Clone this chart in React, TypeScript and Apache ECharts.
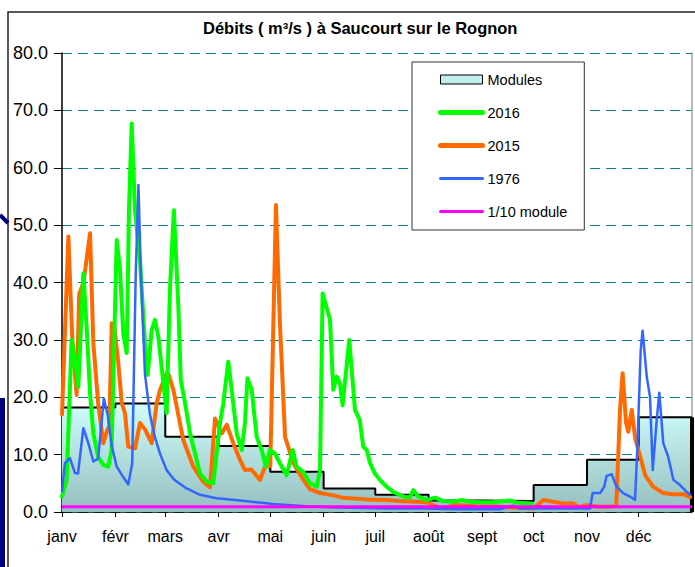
import React, { useEffect, useRef } from "react";
import * as echarts from "echarts";

const FONT = "'Liberation Sans', Arial, sans-serif";

const monthLabels = ["janv", "févr", "mars", "avr", "mai", "juin", "juil", "août", "sept", "oct", "nov", "déc"];
const monthStartDays = [0, 31, 60, 91, 121, 152, 182, 213, 244, 274, 305, 335];
const yearDays = 366;

const modulesMonthly = [18.2, 18.9, 13.1, 11.5, 7.0, 4.1, 3.0, 2.0, 1.9, 4.7, 9.1, 16.5];
const tenthModule = 0.9;

const flow2016: [number, number][] = [
  [0, 2.7], [2.7, 5.6], [5.6, 30], [7.5, 27], [9.5, 21.8], [12.4, 41.6], [14.3, 32.3], [16.3, 20.7],
  [18.2, 13.7], [21, 9.6], [24, 8.2], [26.9, 7.9], [28.8, 10.8], [31.8, 47.4], [33.7, 42.2], [35.6, 31.1],
  [37.6, 27.7], [38.9, 52.6], [40.5, 67.7], [42.4, 52.6], [45.3, 43.9], [48.2, 29.4], [49.8, 23.9],
  [52.1, 31.7], [54, 33.5], [56, 30.5], [58.9, 22.4], [60.8, 17.2], [62.7, 38.7], [65, 52.6], [67.6, 35.8],
  [69, 23], [71.5, 19], [74.4, 13.7], [77.3, 10.2], [80.2, 6.7], [84, 5.3], [87.9, 5], [91.8, 15.5],
  [93.7, 18.9], [96.6, 26.2], [98.6, 21.3], [101.5, 13.7], [104.4, 10.8], [106.3, 15.5], [107.7, 23.3],
  [110.2, 21.3], [113.1, 13.1], [116, 10.8], [118.5, 7.9], [120.8, 10.8], [123.7, 10.2], [126.6, 8.5],
  [130.5, 6.4], [134, 10.8], [136.3, 7.9], [140.2, 7], [144, 5], [148, 4.4], [149.9, 7.3], [151.4, 38.1],
  [155.7, 33.5], [157.6, 21.3], [159.6, 23.6], [161.5, 22.4], [163, 18.6], [166.9, 30], [170.2, 17.8],
  [173, 16], [175, 11.4], [177, 10.8], [179, 8.5], [181.8, 6.7], [184.7, 5.6], [188.6, 4.4], [192.5, 3.5],
  [198.3, 2.7], [202, 2.5], [204.1, 3.8], [207, 2.7], [211.9, 2.1], [216.7, 2.5], [221.5, 1.9], [227, 1.8],
  [232.2, 2.1], [237, 1.8], [242.8, 1.7], [250, 1.7], [260, 2.0], [265, 1.6], [273, 1.5],
];

const flow2015: [number, number][] = [
  [0, 17], [3.7, 48], [6, 30], [8.5, 20.4], [10, 38], [12.5, 40], [16.3, 48.6], [18.2, 29.4], [21, 19],
  [24, 12], [26, 14], [27.5, 15], [28.9, 32.9], [30.5, 32], [32.7, 26], [34.7, 19], [36.6, 17.2],
  [38.5, 11.4], [42.4, 11.1], [45.3, 15.5], [48.2, 14.4], [52.1, 12], [55, 19], [57, 21.3], [60.8, 24.2],
  [62, 23.9], [64.7, 21.3], [70.5, 12.5], [76.3, 7.9], [82, 5.3], [86, 4.3], [88.9, 16.3], [92.8, 13.7],
  [95.7, 15.2], [99.5, 12], [103.4, 9.1], [106.3, 7.3], [110, 7.4], [115, 5.6], [118, 7.9], [121, 8],
  [122.8, 32.9], [124.3, 53.5], [126.6, 32.9], [129.6, 13.1], [134.4, 8.5], [140.2, 5.6], [144, 4],
  [150, 3.3], [157.6, 2.9], [163, 2.5], [177, 2.2], [188.5, 2.1], [196, 1.9], [211.5, 1.7], [219, 0.75],
  [223, 0.8], [228, 1.2], [240, 1.0], [255, 0.9], [266, 0.7], [274, 0.6], [279.6, 2.1], [285.4, 1.8],
  [291, 1.5], [297, 1.5], [300, 0.9], [304.8, 1.2], [312.5, 0.9], [322, 1.0], [324.2, 17.8], [325.7, 24.2],
  [327.7, 15.5], [329, 14], [331, 17.8], [333, 12.8], [336, 9.6], [338.8, 6.4], [343.5, 4.4], [349.3, 3.3],
  [355, 3.1], [361, 3.1], [365, 2.6],
];

const flow1976: [number, number][] = [
  [0, 3.6], [1.7, 8.5], [4.6, 9.4], [7.5, 6.8], [9.3, 6.7], [12.4, 14.6], [15.3, 12], [18.2, 8.8], [21, 9.3],
  [24.3, 19.8], [26.5, 17], [28.9, 11.5], [31.8, 7.9], [34.7, 6.5], [38.5, 4.8], [40.8, 8.5], [42.8, 41],
  [44.4, 57], [45.9, 41], [48.2, 24], [51.1, 17], [54, 13], [56.9, 10.2], [60.8, 7.3], [64.7, 5.8],
  [66.6, 5.3], [72.4, 4.1], [80.2, 3], [89.9, 2.4], [103.4, 2], [122.8, 1.4], [142, 1], [160, 0.8],
  [175, 0.7], [190, 0.6], [210, 0.6], [230, 0.5], [255, 0.5], [262, 1.1], [266, 0.6], [285, 0.6],
  [306.7, 0.6], [308.3, 3.3], [312.6, 3.3], [315, 4.4], [316.4, 6.3], [319.3, 6.6], [322.2, 4.4], [326, 3.3],
  [330, 2.7], [332.9, 2.1], [334.2, 10.8], [336.2, 28.2], [337.3, 31.6], [339.7, 23.6], [341.6, 20.1],
  [343.2, 7.3], [345.5, 16], [347, 20.8], [349.3, 12], [352.2, 9.6], [355.2, 5.6], [359, 4.7], [362.9, 3.5],
  [365, 3],
];

export default function App() {
  const ref = useRef<HTMLDivElement>(null);

  useEffect(() => {
    const chart = echarts.init(ref.current!, null, { renderer: "svg" });

    const moduleData: [number, number][] = modulesMonthly.map((v, i) => [monthStartDays[i], v]);
    moduleData.push([yearDays, modulesMonthly[modulesMonthly.length - 1]]);
    const edgeData = [[yearDays, 0], [yearDays, modulesMonthly[modulesMonthly.length - 1]]];
    const tenthData = [[0, tenthModule], [yearDays, tenthModule]];

    const option: any = {
      animation: false,
      backgroundColor: "#ffffff",
      title: {
        text: "Débits ( m³/s ) à Saucourt sur le Rognon",
        left: 203,
        top: 19,
        padding: 0,
        textStyle: { fontFamily: FONT, fontSize: 16.5, fontWeight: "bold", color: "#000" },
      },
      graphic: [
        { type: "rect", shape: { x: 8, y: 12, width: 720, height: 600 }, style: { fill: "none", stroke: "#222", lineWidth: 1.5 }, silent: true },
        { type: "rect", shape: { x: 0, y: 398, width: 5, height: 170 }, style: { fill: "#000080" }, silent: true },
        { type: "line", shape: { x1: 0, y1: 215, x2: 8, y2: 223 }, style: { stroke: "#000080", lineWidth: 4 }, silent: true },
      ],
      legend: {
        orient: "vertical",
        left: 412,
        top: 62,
        padding: [10, 17, 11, 26],
        itemGap: 18,
        itemWidth: 42,
        itemHeight: 9,
        backgroundColor: "#ffffff",
        borderColor: "#333",
        borderWidth: 1,
        textStyle: { fontFamily: FONT, fontSize: 14.5, color: "#000" },
        data: [
          { name: "Modules", icon: "rect", itemStyle: { color: "#c2eeee", borderColor: "#000", borderWidth: 1 } },
          { name: "2016", itemStyle: { opacity: 0 }, lineStyle: { width: 5, cap: "round" } },
          { name: "2015", itemStyle: { opacity: 0 }, lineStyle: { width: 5, cap: "round" } },
          { name: "1976", itemStyle: { opacity: 0 }, lineStyle: { width: 3, cap: "round" } },
          { name: "1/10 module", itemStyle: { opacity: 0 }, lineStyle: { width: 3, cap: "round" } },
        ],
      },
      grid: { left: 62, right: 3, top: 53, bottom: 55, containLabel: false, outerBoundsMode: "none" },
      xAxis: {
        type: "value",
        min: 0,
        max: yearDays,
        axisLine: { show: true, onZero: false, lineStyle: { color: "#000", width: 1.5 } },
        axisTick: { show: true, customValues: monthStartDays, length: 5, lineStyle: { color: "#000" } },
        axisLabel: {
          customValues: monthStartDays,
          formatter: (v: number) => monthLabels[monthStartDays.indexOf(v)] ?? "",
          fontFamily: FONT,
          fontSize: 16,
          color: "#000",
          margin: 16,
        },
        splitLine: { show: false },
      },
      yAxis: [
        {
          type: "value",
          min: 0,
          max: 80,
          interval: 10,
          axisLine: { show: true, lineStyle: { color: "#000", width: 1.5 } },
          axisTick: { show: true, length: 8, lineStyle: { color: "#000" } },
          axisLabel: {
            formatter: (v: number) => v.toFixed(1),
            fontFamily: FONT,
            fontSize: 18,
            color: "#000",
            margin: 14,
          },
          splitLine: { show: true, lineStyle: { color: "#0a8585", width: 1, type: [10, 6] } },
        },
        {
          type: "value",
          min: 0,
          max: 80,
          interval: 10,
          position: "right",
          axisLine: { show: true, lineStyle: { color: "#a0a0a0", width: 1.5 } },
          axisTick: { show: false },
          axisLabel: { show: false },
          splitLine: { show: false },
        },
      ],
      series: [
        {
          name: "Modules",
          type: "line",
          step: "end",
          data: moduleData,
          symbol: "none",
          lineStyle: { color: "#000", width: 2 },
          itemStyle: { color: "#c2eeee" },
          areaStyle: {
            opacity: 1,
            color: new echarts.graphic.LinearGradient(0, 0, 0, 1, [
              { offset: 0, color: "#cffcfc" },
              { offset: 1, color: "#95bfbf" },
            ]),
          },
          z: 1,
        },
        {
          name: "edge",
          type: "line",
          data: edgeData,
          symbol: "none",
          lineStyle: { color: "#000", width: 4 },
          z: 2,
        },
        {
          name: "2015",
          type: "line",
          data: flow2015,
          symbol: "none",
          lineStyle: { color: "#ff6a00", width: 4, join: "round", cap: "round" },
          itemStyle: { color: "#ff6a00" },
          z: 3,
        },
        {
          name: "2016",
          type: "line",
          data: flow2016,
          symbol: "none",
          lineStyle: { color: "#00ff00", width: 4, join: "round", cap: "round" },
          itemStyle: { color: "#00ff00" },
          z: 4,
        },
        {
          name: "1976",
          type: "line",
          data: flow1976,
          symbol: "none",
          lineStyle: { color: "#3366ff", width: 2.5, join: "round", cap: "round" },
          itemStyle: { color: "#3366ff" },
          z: 5,
        },
        {
          name: "1/10 module",
          type: "line",
          data: tenthData,
          symbol: "none",
          lineStyle: { color: "#ff00ff", width: 3 },
          itemStyle: { color: "#ff00ff" },
          z: 6,
        },
      ],
    };

    chart.setOption(option);
    return () => chart.dispose();
  }, []);

  return (
    <div
      ref={ref}
      style={{ position: "fixed", left: 0, top: 0, width: 695, height: 567, background: "#fff" }}
    />
  );
}
